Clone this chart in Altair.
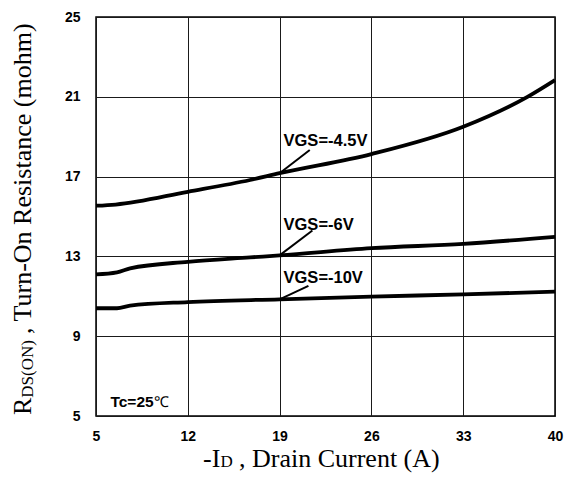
import altair as alt
import pandas as pd

# ---- data ----
x_ticks = [5, 12, 19, 26, 33, 40]
y_ticks = [5, 9, 13, 17, 21, 25]

vgs45_x = [5, 6.5, 12, 16.75, 19, 26, 33, 37.9, 40]
vgs45_y = [15.54, 15.6, 16.24, 16.83, 17.17, 18.13, 19.5, 21.0, 21.84]

vgs6_x = [5, 6.6, 7.6, 12, 16.75, 19, 26, 33, 40]
vgs6_y = [12.1, 12.2, 12.4, 12.73, 12.95, 13.05, 13.41, 13.63, 13.98]

vgs10_x = [5, 6.6, 7.6, 12, 19, 26, 33, 40]
vgs10_y = [10.4, 10.4, 10.53, 10.71, 10.85, 10.98, 11.1, 11.23]

label_text = ["VGS=-4.5V", "VGS=-6V", "VGS=-10V"]
label_x = [19.3, 19.3, 19.3]
label_y = [18.76, 14.57, 11.92]

leader_x = [19, 19, 19]
leader_y = [17.17, 13.05, 10.85]
leader_x2 = [21.3, 21.5, 21.2]
leader_y2 = [18.33, 14.3, 11.52]

tc_text = ["Tc=25"]
tc_x = [6.1]
tc_y = [5.68]
deg_text = ["℃"]
deg_x = [9.45]
deg_y = [5.68]

# ---- tables ----
rows = []
for name, xs, ys in [("-4.5V", vgs45_x, vgs45_y), ("-6V", vgs6_x, vgs6_y), ("-10V", vgs10_x, vgs10_y)]:
    for a, b in zip(xs, ys):
        rows.append({"s": name, "x": a, "y": b})
curves = pd.DataFrame(rows)
labels = pd.DataFrame({"t": label_text, "x": label_x, "y": label_y})
leaders = pd.DataFrame({"x": leader_x, "y": leader_y, "x2": leader_x2, "y2": leader_y2})
tc = pd.DataFrame({"t": tc_text, "x": tc_x, "y": tc_y})
deg = pd.DataFrame({"t": deg_text, "x": deg_x, "y": deg_y})

xscale = alt.Scale(domain=[5, 40], nice=False, zero=False)
yscale = alt.Scale(domain=[5, 25], nice=False, zero=False)

axis_common = dict(grid=True, gridColor="#1a1a1a", gridWidth=1, ticks=False, domain=False,
                   labelFont="Liberation Sans", labelFontWeight="bold", labelFontSize=14,
                   labelColor="#000", labelFlush=False, labelOverlap=False, title=None)

base_x = alt.X("x:Q", scale=xscale, axis=alt.Axis(values=x_ticks, labelPadding=13, **axis_common))
base_y = alt.Y("y:Q", scale=yscale, axis=alt.Axis(values=y_ticks, labelPadding=16, **axis_common))

lines = alt.Chart(curves).mark_line(color="black", strokeWidth=3.8, interpolate="monotone").encode(
    x=base_x, y=base_y, detail="s:N")

lead = alt.Chart(leaders).mark_rule(color="black", strokeWidth=2).encode(
    x=alt.X("x:Q", scale=xscale), y=alt.Y("y:Q", scale=yscale), x2="x2:Q", y2="y2:Q")

lab = alt.Chart(labels).mark_text(align="left", baseline="middle", font="Liberation Sans",
                                  fontWeight="bold", fontSize=16.5, color="black").encode(
    x=alt.X("x:Q", scale=xscale), y=alt.Y("y:Q", scale=yscale), text="t:N")

tct = alt.Chart(tc).mark_text(align="left", baseline="middle", font="Liberation Sans",
                              fontWeight="bold", fontSize=15.5, color="black").encode(
    x=alt.X("x:Q", scale=xscale), y=alt.Y("y:Q", scale=yscale), text="t:N")

degt = alt.Chart(deg).mark_text(align="left", baseline="middle", font="Liberation Sans",
                                fontWeight="normal", fontSize=15, color="black").encode(
    x=alt.X("x:Q", scale=xscale), y=alt.Y("y:Q", scale=yscale), text="t:N")

serif = "Liberation Serif"

def txt(s, x, y, size, angle=0):
    return alt.Chart(pd.DataFrame({"t": [s]})).mark_text(
        align="left", baseline="alphabetic", font=serif, fontSize=size, color="black", angle=angle
    ).encode(x=alt.value(x), y=alt.value(y), text="t:N")

# x title: "-ID , Drain Current (A)" with small D
xt1 = txt("-I", 107, 450, 26)
xt2 = txt("D", 124.5, 450, 17)
xt3 = txt(", Drain Current (A)", 143, 450, 26)

# y title: "RDS(ON) , Turn-On Resistance (mohm)" with subscript
yt1 = txt("R", -65, 398, 26, 270)
yt2 = txt("DS(ON)", -63, 380.7, 17, 270)
yt3 = txt(", Turn-On Resistance (mohm)", -65, 317, 26, 270)

chart = alt.layer(lines, lead, lab, tct, degt, xt1, xt2, xt3, yt1, yt2, yt3).properties(
    width=459, height=399,
    padding={"left": 88, "top": 9, "right": 14, "bottom": 59},
    autosize=alt.AutoSizeParams(type="none"),
).configure_view(stroke="#000", strokeWidth=1.5)

chart.save("out.html", embed_options={"renderer": "svg", "actions": False})
